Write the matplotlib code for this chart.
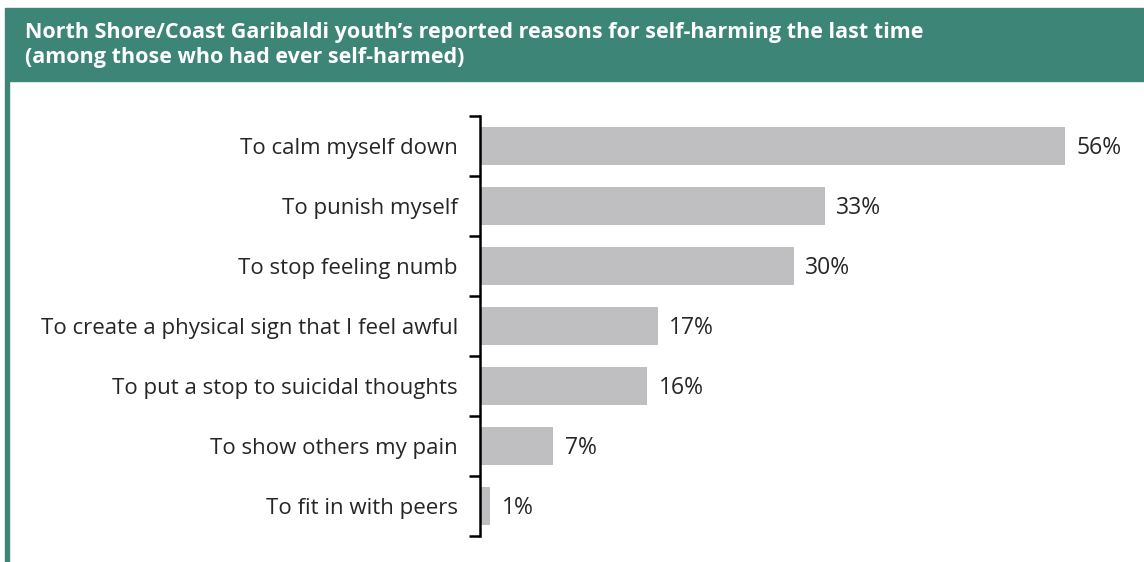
import matplotlib.pyplot as plt
import matplotlib.patches as patches
import numpy as np

# Reasons for self-harming the last time (% of youth who had ever self-harmed)
reasons = [
    "To calm myself down",
    "To punish myself",
    "To stop feeling numb",
    "To create a physical sign that I feel awful",
    "To put a stop to suicidal thoughts",
    "To show others my pain",
    "To fit in with peers",
]
percent = [56, 33, 30, 17, 16, 7, 1]

title = ("North Shore/Coast Garibaldi youth\u2019s reported reasons for self-harming the last time\n"
         "(among those who had ever self-harmed)")

teal = "#3d8677"
bar_grey = "#bfbfc2"
text_col = "#262626"

plt.rcParams['font.family'] = ['Open Sans', 'DejaVu Sans']

W, H = 1144, 562
fig = plt.figure(figsize=(W / 100, H / 100), dpi=100)

# header band and left border
fig.patches.append(patches.Rectangle((5 / W, (H - 81) / H), 1 - 5 / W, 73 / H,
                                     transform=fig.transFigure, color=teal, zorder=0))
fig.patches.append(patches.Rectangle((5 / W, 0), 4 / W, (H - 81) / H,
                                     transform=fig.transFigure, color=teal, zorder=0))
fig.text(25 / W, (H - 45) / H, title, color="white", fontsize=15.5, fontweight="bold",
         va="center", ha="left", linespacing=1.2)

# plot area
px_per_pct = 10.45
x_max = 60
ax = fig.add_axes([480 / W, 26 / H, x_max * px_per_pct / W, 420 / H])

y = np.arange(len(reasons))
ax.barh(y, percent, height=0.62, color=bar_grey)
for yi, v in zip(y, percent):
    ax.text(v + 1.1, yi + 0.04, f"{v}%", va="center", ha="left", fontsize=16.5, color=text_col)

ax.set_xlim(0, x_max)
ax.set_ylim(len(reasons) - 0.5, -0.5)

# category boundaries as bracket ticks, labels centred on bars
ax.set_yticks(np.arange(-0.5, len(reasons)), labels=[])
ax.set_yticks(y, labels=reasons, minor=True)
ax.tick_params(axis="y", which="major", length=8, width=1.8, direction="out", color="black")
ax.tick_params(axis="y", which="minor", length=0, pad=16, labelsize=16, labelcolor=text_col)
ax.set_xticks([])

for side in ["top", "right", "bottom"]:
    ax.spines[side].set_visible(False)
ax.spines["left"].set_linewidth(1.8)

fig.savefig("out.png", dpi=100)
